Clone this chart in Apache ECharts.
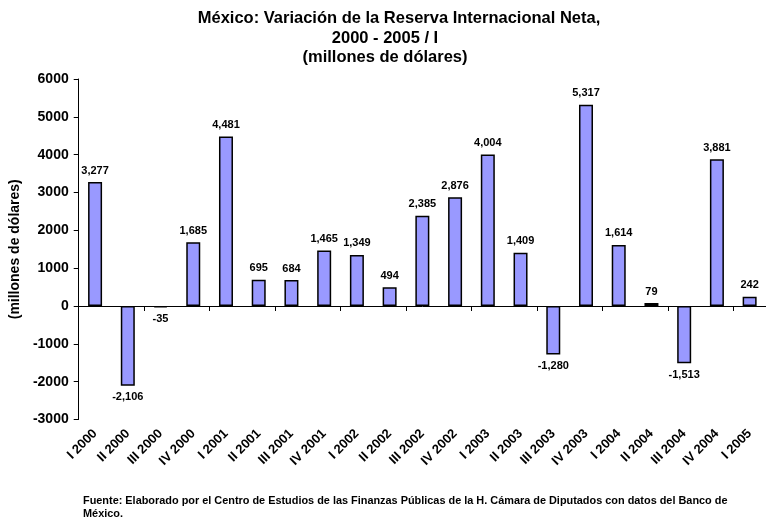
<!DOCTYPE html>
<html><head><meta charset="utf-8">
<script src="https://cdn.jsdelivr.net/npm/echarts@6/dist/echarts.min.js"></script>
<style>html,body{margin:0;padding:0;background:#fff}#c{width:766px;height:520px}</style>
</head><body><div id="c"></div>
<script>
const categories = ['I 2000','II 2000','III 2000','IV 2000','I 2001','II 2001','III 2001','IV 2001','I 2002','II 2002','III 2002','IV 2002','I 2003','II 2003','III 2003','IV 2003','I 2004','II 2004','III 2004','IV 2004','I 2005'];
const values = [3277,-2106,-35,1685,4481,695,684,1465,1349,494,2385,2876,4004,1409,-1280,5317,1614,79,-1513,3881,242];
const yTicks = {min:-3000, max:6000, interval:1000};
const titleLines = ['México: Variación de la Reserva Internacional Neta,','2000 - 2005 / I','(millones de dólares)'];
const yName = '(millones de dólares)';
const footer = 'Fuente: Elaborado por el Centro de Estudios de las Finanzas Públicas de la H. Cámara de Diputados con datos del Banco de\nMéxico.';

const font = 'Arial, "Liberation Sans", sans-serif';
const titleStyle = {fontFamily:font,fontWeight:'bold',fontSize:16.5,color:'#000'};
const chart = echarts.init(document.getElementById('c'));
chart.setOption({
  animation:false,
  backgroundColor:'#fff',
  title:[
    {text:titleLines[0],left:394,textAlign:'center',top:5,textStyle:titleStyle},
    {text:titleLines[1],left:380,textAlign:'center',top:24.5,textStyle:titleStyle},
    {text:titleLines[2],left:380,textAlign:'center',top:44,textStyle:titleStyle}],
  grid:{left:78,top:79,bottom:100.5,right:-6,containLabel:false},
  xAxis:[{type:'category',data:categories,
    axisLine:{onZero:true,lineStyle:{color:'#000',width:1}},
    axisTick:{show:true,alignWithLabel:false,length:5,lineStyle:{color:'#000'}},
    axisLabel:{show:false}},
   {type:'category',data:categories,position:'bottom',
    axisLine:{show:false,onZero:false},axisTick:{show:false},
    axisLabel:{interval:0,rotate:45,margin:12,fontFamily:font,fontWeight:'bold',fontSize:13,color:'#000'}}],
  yAxis:{type:'value',min:yTicks.min,max:yTicks.max,interval:yTicks.interval,
    name:yName,nameLocation:'middle',nameGap:52,nameRotate:90,
    nameTextStyle:{fontFamily:font,fontWeight:'bold',fontSize:14,color:'#000'},
    axisLine:{show:true,lineStyle:{color:'#000'}},
    axisTick:{show:true,length:5,lineStyle:{color:'#000'}},
    splitLine:{show:false},
    axisLabel:{fontFamily:font,fontWeight:'bold',fontSize:14,color:'#000',margin:10,formatter:v=>String(v)}},
  series:[{type:'bar',xAxisIndex:0,barWidth:14,
    itemStyle:{color:'#9999ff',borderColor:'#000',borderWidth:1.5},
    label:{show:true,fontFamily:font,fontWeight:'bold',fontSize:11,color:'#000',distance:6,
      formatter:p=>p.value.toLocaleString('en-US')},
    data:values.map(v=>({value:v,label:{position:v<0?'bottom':'top'}}))}],
  graphic:[{type:'text',left:83,top:494,style:{text:footer,fontFamily:font,fontWeight:'bold',fontSize:10.9,lineHeight:13,fill:'#000'}}]
});
</script></body></html>
